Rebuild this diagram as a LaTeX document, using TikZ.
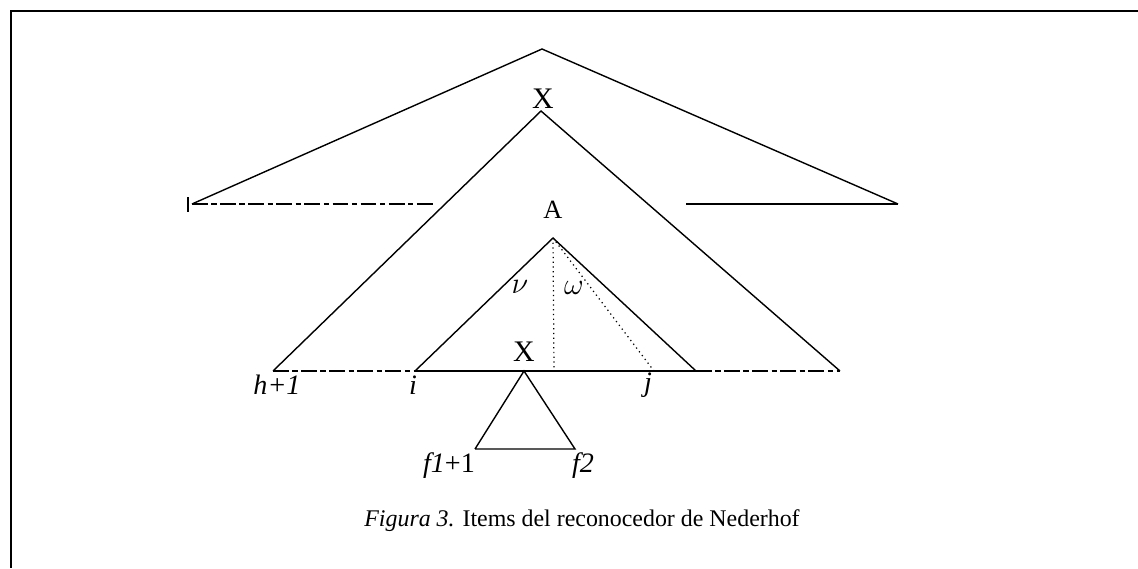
\documentclass[tikz,border=0pt]{standalone}
\usepackage{fontspec}
\setmainfont{Liberation Serif}
\usetikzlibrary{positioning}

\tikzset{
  edge/.style={line width=0.8pt},
  gapline/.style={line width=0.6pt, dash pattern=on 9pt off 2pt on 3pt off 2pt},
  guide/.style={line width=0.7pt, dotted},
  sym/.style={font=\fontsize{17}{17}\selectfont, inner sep=0pt},
  idx/.style={font=\fontsize{16}{16}\selectfont\itshape, inner sep=0pt},
}

\begin{document}
\begin{tikzpicture}[x=0.02cm, y=-0.02cm]
  \useasboundingbox (0,0) rectangle (1138,568);

  % frame
  \coordinate (frameTR) at (1138,11);
  \coordinate (frameTL) at (11,11);
  \coordinate (frameBL) at (11,568);
  \draw[line width=1.1pt] (frameTR) -- (frameTL) -- (frameBL);

  % outer tree
  \coordinate (outTop) at (542,49);
  \coordinate (outL) at (192,204);
  \coordinate (outR) at (898,204);
  \coordinate (cutL) at (436,204);
  \coordinate (cutR) at (686,204);
  \draw[edge] (outL) -- (outTop) -- (outR);
  \draw[gapline] (outL) -- (cutL);
  \draw[edge] (cutR) -- (outR);
  \draw[line width=0.9pt] (188,197) -- (188,212);

  % X tree
  \node[sym] (xLbl) at (543,99) {X};
  \coordinate (xTop) at (541,111);
  \coordinate (xL) at (273,371);
  \coordinate (xR) at (840,371);
  \draw[edge] (xL) -- (xTop) -- (xR);

  % A tree
  \node[sym, font=\fontsize{15}{15}\selectfont] (aLbl) at (553,210) {A};
  \coordinate (aTop) at (553,238);
  \coordinate (aL) at (415,371);
  \coordinate (aR) at (696,371);
  \coordinate (aMid) at (554,371);
  \coordinate (jPt) at (654,371);
  \draw[edge] (aL) -- (aTop) -- (aR);
  \draw[gapline] (xL) -- (aL);
  \draw[edge] (aL) -- (aR);
  \draw[gapline] (aR) -- (xR);
  \draw[guide] (aTop) -- (aMid);
  \draw[guide] (aTop) -- (jPt);
  \node[sym] (nu) at (520,287) {$\nu$};
  \node[sym] (omega) at (574,288) {$\omega$};

  % small X tree
  \node[sym] (sLbl) at (524,352) {X};
  \coordinate (sTop) at (524,371);
  \coordinate (sL) at (475,449);
  \coordinate (sR) at (575,449);
  \draw[edge] (sL) -- (sTop) -- (sR) -- (sL);

  % positions
  \node[idx] (hPos) at (277,385) {h+1};
  \node[idx] (iPos) at (413,385) {i};
  \node[idx] (jPos) at (648,385) {j};
  \node[idx] (f1Pos) at (449,466) {f1\upshape+1};
  \node[idx] (f2Pos) at (583,466) {f2};

  % caption
  \node[font=\fontsize{13.6}{14}\selectfont, inner sep=0pt] (caption) at (582,521)
    {\textit{Figura 3.} Items del reconocedor de Nederhof};
\end{tikzpicture}
\end{document}
